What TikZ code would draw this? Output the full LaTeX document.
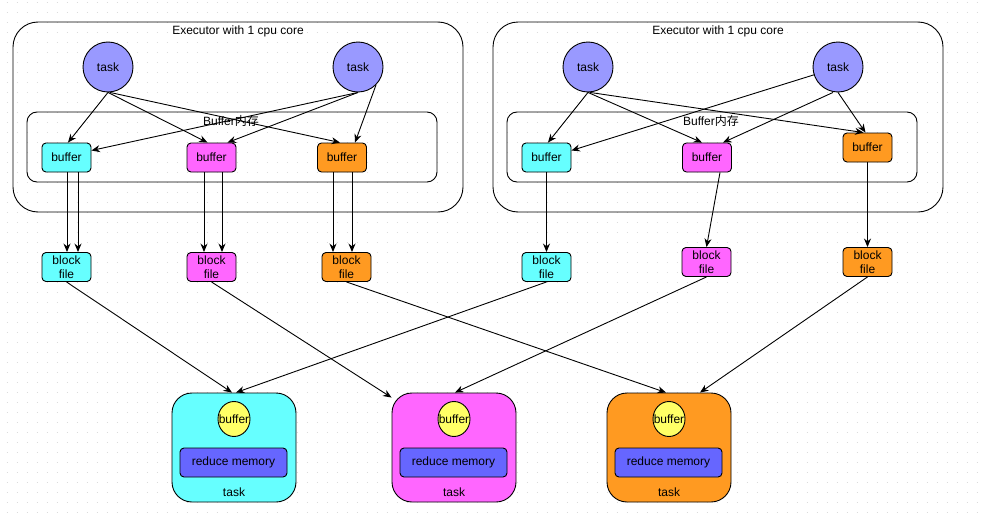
\documentclass[tikz,border=0pt]{standalone}
\usepackage{fontspec}
\setmainfont{Liberation Sans}
\newfontfamily\cjk{Noto Sans CJK SC}
\usetikzlibrary{arrows.meta,shapes.geometric}
\definecolor{ccyan}{HTML}{66FFFF}
\definecolor{cmag}{HTML}{FF66FF}
\definecolor{corange}{HTML}{FF9A21}
\definecolor{ctask}{HTML}{9999FF}
\definecolor{cyel}{HTML}{FFFF66}
\definecolor{cred}{HTML}{6666FF}
\tikzset{
  lw/.style={line width=0.9pt},
  txt/.style={font=\fontsize{12}{14}\selectfont},
  exec/.style={lw, draw, rounded corners=25pt},
  bufmem/.style={lw, draw, rounded corners=10pt},
  taskc/.style={circle, lw, draw, fill=ctask, minimum size=50pt, inner sep=0pt, txt},
  bufbox/.style={rectangle, lw, draw, rounded corners=4pt, minimum width=49pt, minimum height=29pt, inner sep=0pt, txt},
  blockbox/.style={bufbox, align=center, font=\fontsize{12}{14.5}\selectfont},
  bigtask/.style={rectangle, lw, draw, rounded corners=20pt, minimum width=124pt, minimum height=109pt, inner sep=0pt},
  ybuf/.style={ellipse, lw, draw, fill=cyel, minimum width=32pt, minimum height=35pt, inner sep=0pt},
  redmem/.style={rectangle, lw, draw, fill=cred, rounded corners=4pt, minimum width=107pt, minimum height=29pt, inner sep=0pt, txt},
  arr/.style={lw, -{Stealth[length=8.5pt,width=7pt]}},
}
\begin{document}
\begin{tikzpicture}[x=1pt,y=-1pt]
\useasboundingbox (0,0) rectangle (986,522);
\fill[white] (0,0) rectangle (986,522);
% grid dots
\foreach \yy in {2,12,...,522}
  \draw[black!14, line width=1pt, dash pattern=on 1pt off 9pt] (6.5,\yy) -- (986,\yy);

% executors
\draw[exec] (13,22) rectangle (463,212);
\draw[exec] (493,22) rectangle (943,212);
\node[txt] (ex1) at (238,31.5) {Executor with 1 cpu core};
\node[txt] (ex2) at (718,31.5) {Executor with 1 cpu core};
\draw[bufmem] (27,112) rectangle (437,182);
\draw[bufmem] (507,112) rectangle (917,182);
\node[txt] (bm1) at (231,121) {Buffer{\cjk 内存}};
\node[txt] (bm2) at (711,121) {Buffer{\cjk 内存}};

% tasks
\node[taskc] (t1) at (108,67) {task};
\node[taskc] (t2) at (358,67) {task};
\node[taskc] (t3) at (588,67) {task};
\node[taskc] (t4) at (838,67) {task};

% buffers
\node[bufbox, fill=ccyan] (b1) at (66.5,157.5) {buffer};
\node[bufbox, fill=cmag] (b2) at (211.5,157.5) {buffer};
\node[bufbox, fill=corange] (b3) at (342,157.5) {buffer};
\node[bufbox, fill=ccyan] (b4) at (546.5,157.5) {buffer};
\node[bufbox, fill=cmag] (b5) at (707,157.5) {buffer};
\node[bufbox, fill=corange] (b6) at (867.5,147.5) {buffer};

% block files
\node[blockbox, fill=ccyan] (f1) at (66.5,267) {block\\file};
\node[blockbox, fill=cmag] (f2) at (211.5,267) {block\\file};
\node[blockbox, fill=corange] (f3) at (346.5,267) {block\\file};
\node[blockbox, fill=ccyan] (f4) at (546.5,267) {block\\file};
\node[blockbox, fill=cmag] (f5) at (706.5,262) {block\\file};
\node[blockbox, fill=corange] (f6) at (867.5,262) {block\\file};

% bottom tasks
\node[bigtask, fill=ccyan] (T1) at (234,447.5) {};
\node[bigtask, fill=cmag] (T2) at (454,447.5) {};
\node[bigtask, fill=corange] (T3) at (669,447.5) {};
\foreach \T/\x in {1/234,2/454,3/669}{
  \node[ybuf] (y\T) at (\x,419) {};
  \node[txt] (yl\T) at (\x,419) {buffer};
  \node[redmem] (r\T) at (\x-0.5,462.5) {reduce memory};
  \node[txt] (l\T) at (\x,492) {task};
}

% left executor arrows
\draw[arr] (t1.south) -- ([xshift=1.5pt]b1.north);
\draw[arr] (t1.south) -- ([xshift=-4pt]b2.north);
\draw[arr] ([xshift=2pt]t1.south) -- ([xshift=-2pt]b3.north);
\draw[arr] (t2.south) -- ([yshift=7pt]b1.east);
\draw[arr] (t2.south) -- ([xshift=16pt]b2.north);
\draw[arr] (t2.-45) -- ([xshift=13pt]b3.north);
% right executor arrows
\draw[arr] (t3.south) -- ([xshift=1.5pt]b4.north);
\draw[arr] (t3.south) -- ([xshift=-5pt]b5.north);
\draw[arr] ([xshift=2pt]t3.south) -- ([xshift=-4pt]b6.north);
\draw[arr] (t4.198) -- ([yshift=7pt]b4.east);
\draw[arr] ([xshift=-5pt]t4.south) -- ([xshift=16pt]b5.north);
\draw[arr] (t4.south) -- ([xshift=-2pt]b6.north);

% buffers to block files
\draw[arr] ([xshift=0.5pt]b1.south) -- ([xshift=0.5pt]f1.north);
\draw[arr] ([xshift=11.5pt]b1.south) -- ([xshift=11.5pt]f1.north);
\draw[arr] ([xshift=-7.5pt]b2.south) -- ([xshift=-7.5pt]f2.north);
\draw[arr] ([xshift=10.5pt]b2.south) -- ([xshift=10.5pt]f2.north);
\draw[arr] ([xshift=-9pt]b3.south) -- ([xshift=-13.5pt]f3.north);
\draw[arr] ([xshift=10pt]b3.south) -- ([xshift=5.5pt]f3.north);
\draw[arr] (b4.south) -- (f4.north);
\draw[arr] ([xshift=13pt]b5.south) -- (f5.north);
\draw[arr] (b6.south) -- (f6.north);

% block files to reduce tasks
\draw[arr] (f1.south) -- ([xshift=-2pt]T1.north);
\draw[arr] (f4.south) -- ([xshift=2pt]T1.north);
\draw[arr] (f2.south) -- ([yshift=-5pt]T2.north west);
\draw[arr] (f5.south) -- ([xshift=1pt]T2.north);
\draw[arr] (f3.south) -- ([xshift=-3pt]T3.north);
\draw[arr] (f6.south) -- ([xshift=31pt]T3.north);
\end{tikzpicture}
\end{document}
